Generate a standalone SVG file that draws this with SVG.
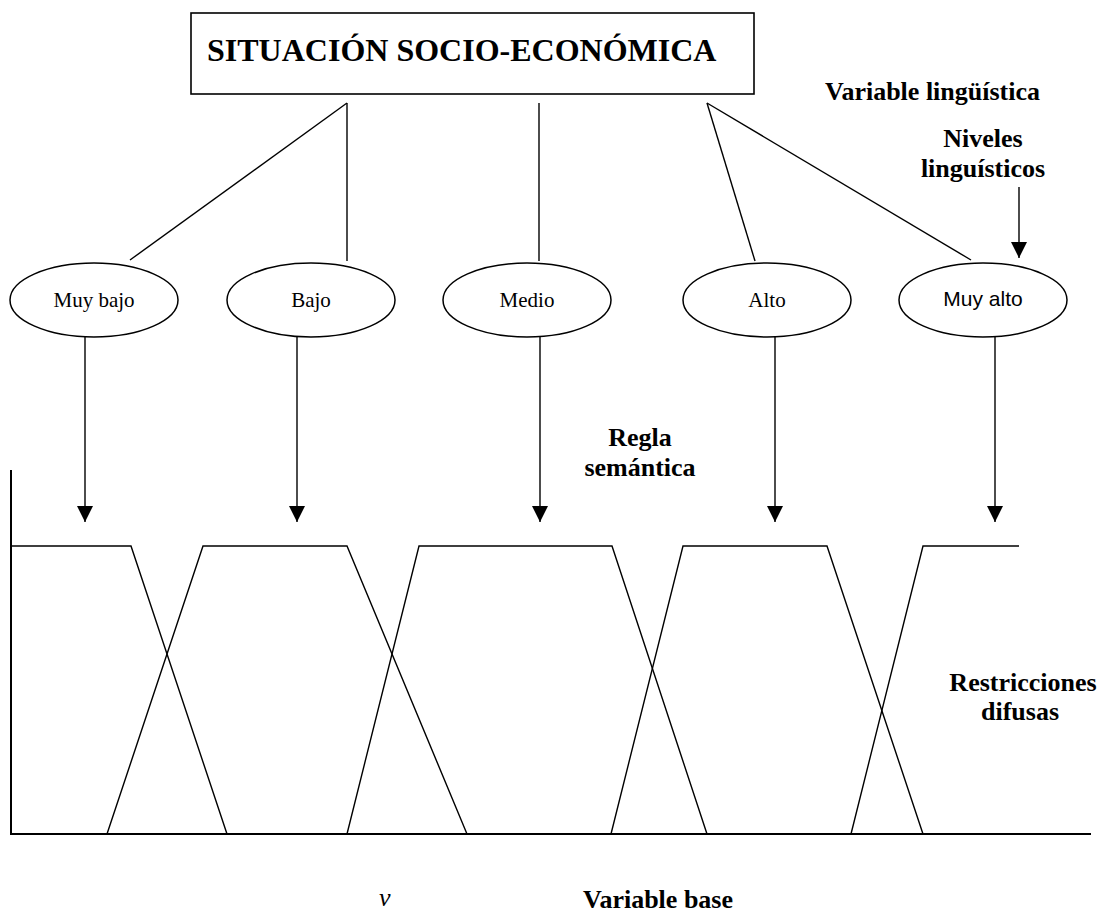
<svg xmlns="http://www.w3.org/2000/svg" width="1101" height="920" viewBox="0 0 1101 920">
<style>
.ln{stroke:#000;stroke-width:1.4;fill:none}
.ax{stroke:#000;stroke-width:2;fill:none}
.el{stroke:#000;stroke-width:1.5;fill:#fff}
.lb{font-family:"Liberation Serif","Times New Roman",serif;font-weight:bold;font-size:26px;fill:#000}
.nd{font-family:"Liberation Serif","Times New Roman",serif;font-size:21px;fill:#000}
.nds{font-family:"Liberation Sans",Arial,sans-serif;font-size:21px;fill:#000}
</style>
<defs>
<marker id="ah" viewBox="0 0 16 16" refX="16" refY="8" markerWidth="16" markerHeight="16" markerUnits="userSpaceOnUse" orient="auto">
<path d="M0,0 L16,8 L0,16 z" fill="#000"/>
</marker>
</defs>
<rect width="1101" height="920" fill="#fff"/>
<g id="title">
<rect x="191" y="13" width="563" height="81" fill="#fff" stroke="#000" stroke-width="1.6"/>
<text x="207" y="61" font-family="Liberation Serif, Times New Roman, serif" font-weight="bold" font-size="32">SITUACIÓN SOCIO-ECONÓMICA</text>
</g>
<g id="connectors">
<line class="ln" x1="347" y1="103" x2="130" y2="260"/>
<line class="ln" x1="347" y1="103" x2="347" y2="261"/>
<line class="ln" x1="539" y1="103" x2="539" y2="261"/>
<line class="ln" x1="707" y1="103" x2="755" y2="261"/>
<line class="ln" x1="707" y1="103" x2="971" y2="260"/>
<line class="ln" x1="1019" y1="187" x2="1019" y2="258" marker-end="url(#ah)"/>
<line class="ln" x1="85" y1="337" x2="85" y2="522" marker-end="url(#ah)"/>
<line class="ln" x1="297" y1="337" x2="297" y2="522" marker-end="url(#ah)"/>
<line class="ln" x1="540" y1="337" x2="540" y2="522" marker-end="url(#ah)"/>
<line class="ln" x1="775" y1="337" x2="775" y2="522" marker-end="url(#ah)"/>
<line class="ln" x1="995" y1="337" x2="995" y2="522" marker-end="url(#ah)"/>
</g>
<g id="muy-bajo"><ellipse class="el" cx="94" cy="300" rx="84" ry="37"/><text class="nd" x="94" y="307" text-anchor="middle">Muy bajo</text></g>
<g id="bajo"><ellipse class="el" cx="311" cy="300" rx="84" ry="37"/><text class="nd" x="311" y="307" text-anchor="middle">Bajo</text></g>
<g id="medio"><ellipse class="el" cx="527" cy="300" rx="84" ry="37"/><text class="nd" x="527" y="307" text-anchor="middle">Medio</text></g>
<g id="alto"><ellipse class="el" cx="767" cy="300" rx="84" ry="37"/><text class="nd" x="767" y="307" text-anchor="middle">Alto</text></g>
<g id="muy-alto"><ellipse class="el" cx="983" cy="300" rx="84" ry="37"/><text class="nds" x="983" y="306" text-anchor="middle">Muy alto</text></g>
<g id="labels">
<text class="lb" x="825" y="100">Variable lingüística</text>
<text class="lb" x="983" y="147" text-anchor="middle">Niveles</text>
<text class="lb" x="983" y="177" text-anchor="middle">linguísticos</text>
<text class="lb" x="640" y="446" text-anchor="middle">Regla</text>
<text class="lb" x="640" y="476" text-anchor="middle">semántica</text>
<text class="lb" x="1023" y="691" text-anchor="middle">Restricciones</text>
<text class="lb" x="1020" y="720" text-anchor="middle">difusas</text>
<text x="379" y="906" font-family="Liberation Serif, Times New Roman, serif" font-style="italic" font-size="26">v</text>
<text class="lb" x="583" y="908">Variable base</text>
</g>
<g id="fuzzy-sets">
<line class="ax" x1="11" y1="470" x2="11" y2="834"/>
<line class="ax" x1="10" y1="834" x2="1091" y2="834"/>
<polyline class="ln" points="11,546 131,546 227,834"/>
<polyline class="ln" points="107,834 203,546 347,546 467,834"/>
<polyline class="ln" points="347,834 419,546 612,546 707,834"/>
<polyline class="ln" points="611,834 683,546 827,546 923,834"/>
<polyline class="ln" points="851,834 923,546 1019,546"/>
</g>
</svg>
